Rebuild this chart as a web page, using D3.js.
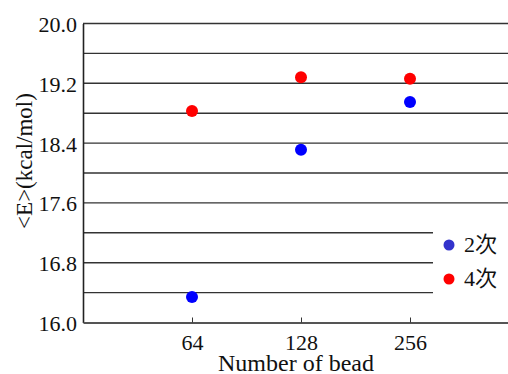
<!DOCTYPE html>
<html lang="ja">
<head>
	<meta charset="utf-8">
	<title>Number of bead</title>
	<script src="https://cdn.jsdelivr.net/npm/d3@7"></script>
	<style>
		body { margin: 0; background: #fff; }
	</style>
</head>
<body>
	<script>
		// data
		var beads = [64, 128, 256];
		var order2 = [16.34, 18.31, 18.95];
		var order4 = [18.83, 19.28, 19.26];
		var yTicks = [16.0, 16.8, 17.6, 18.4, 19.2, 20.0];
		var seriesNames = ["2次", "4次"];

		var w = 508, h = 374;
		var plotLeft = 83, plotTop = 23.5, plotBottom = 322.5;
		var serif = "Liberation Serif, Times New Roman, DejaVu Serif, Noto Sans CJK JP, serif";

		var svg = d3.select("body").append("svg")
			.attr("width", w).attr("height", h);

		var x = d3.scaleLog().base(2).domain([32, 512]).range([plotLeft, 519]);
		var y = d3.scaleLinear().domain([16, 20]).range([plotBottom, plotTop]);

		// horizontal grid lines every 0.4
		svg.append("g")
			.selectAll("line")
			.data(d3.range(16.4, 20.01, 0.4))
			.enter().append("line")
			.attr("x1", plotLeft).attr("x2", w)
			.attr("y1", function(d) { return y(d); })
			.attr("y2", function(d) { return y(d); })
			.attr("stroke", "#333").attr("stroke-width", 1.4);

		// y axis
		var yAxis = svg.append("g")
			.attr("transform", "translate(" + plotLeft + ",0)")
			.call(d3.axisLeft(y).tickValues(yTicks).tickSize(0).tickPadding(6)
				.tickFormat(d3.format(".1f")));
		yAxis.select(".domain").attr("stroke", "#222").attr("stroke-width", 1.6);
		yAxis.selectAll("text").style("font-family", serif).attr("font-size", 22)
			.attr("fill", "#111").attr("dy", "0.36em");

		// x axis with inner ticks
		var xAxis = svg.append("g")
			.attr("transform", "translate(0," + plotBottom + ")")
			.call(d3.axisBottom(x).tickValues(beads).tickSizeInner(-5).tickSizeOuter(0)
				.tickPadding(12).tickFormat(d3.format("d")));
		xAxis.select(".domain").attr("stroke", "#555").attr("stroke-width", 2);
		xAxis.selectAll(".tick line").attr("stroke", "#333");
		xAxis.selectAll("text").style("font-family", serif).attr("font-size", 22)
			.attr("fill", "#111").attr("dy", "0.71em");

		// axis titles
		svg.append("text")
			.attr("x", 296).attr("y", 371)
			.attr("text-anchor", "middle")
			.style("font-family", serif).attr("font-size", 24).attr("fill", "#111")
			.text("Number of bead");

		svg.append("text")
			.attr("transform", "translate(32,161) rotate(-90)")
			.attr("text-anchor", "middle")
			.style("font-family", serif).attr("font-size", 23).attr("fill", "#111")
			.text("<E>(kcal/mol)");

		// points
		var series = [
			{ name: seriesNames[0], values: order2, color: "#0000ff", key: "#3333cc" },
			{ name: seriesNames[1], values: order4, color: "#ff0000", key: "#ff0000" }
		];

		series.forEach(function(s) {
			svg.append("g").selectAll("circle")
				.data(s.values)
				.enter().append("circle")
				.attr("cx", function(d, i) { return x(beads[i]); })
				.attr("cy", function(d) { return y(d); })
				.attr("r", 6)
				.attr("fill", s.color);
		});

		// legend (white box covers the grid lines)
		var legend = svg.append("g").attr("transform", "translate(433,218)");
		legend.append("rect")
			.attr("width", 75).attr("height", 88)
			.attr("fill", "#fff");
		series.forEach(function(s, i) {
			var row = legend.append("g").attr("transform", "translate(0," + (27 + i * 34) + ")");
			row.append("circle").attr("cx", 16).attr("cy", 0).attr("r", 5.5).attr("fill", s.key);
			row.append("text").attr("x", 31).attr("y", 7)
				.style("font-family", serif).attr("font-size", 22).attr("fill", "#111")
				.text(s.name);
		});
	</script>
</body>
</html>
